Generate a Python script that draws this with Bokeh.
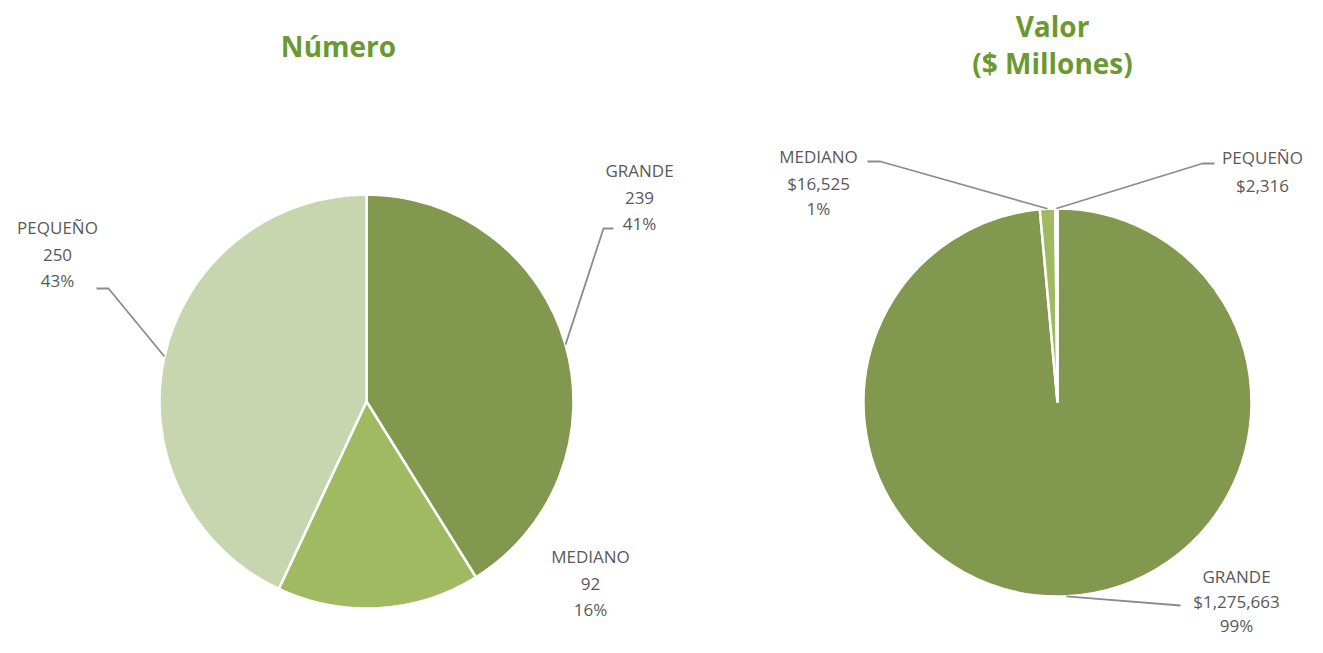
import math
from bokeh.plotting import figure
from bokeh.models import Range1d
from bokeh.core.properties import value
from bokeh.embed import file_html
from bokeh.resources import INLINE

# ---- data ----
categories = ["GRANDE", "MEDIANO", "PEQUEÑO"]
numero = [239, 92, 250]
valor = [1275663, 16525, 2316]
valor_text = ["$1,275,663", "$16,525", "$2,316"]
show_pct_valor = [True, True, False]
colors = ["#82984F", "#A0BA62", "#C8D6AF"]
valor_colors = ["#82984F", "#A0BA62", "#A0BA62"]

W, H = 1307, 637
p = figure(width=W, height=H, output_backend="svg", toolbar_location=None,
           x_range=Range1d(0, W), y_range=Range1d(0, H),
           min_border=0, outline_line_color=None)
p.axis.visible = False
p.grid.visible = False
p.background_fill_color = "white"

def Y(sy):
    return H - sy

TXT = "#595959"
FONT = value("Open Sans")
GREEN = "#6A9A2F"

def pie(cx, cy, r, vals, cols):
    total = float(sum(vals))
    a = 0.0
    mids = []
    for v, c in zip(vals, cols):
        a1 = a + 2 * math.pi * v / total
        p.wedge(x=[cx], y=[Y(cy)], radius=r, start_angle=math.pi / 2 - a,
                end_angle=math.pi / 2 - a1, direction="clock",
                fill_color=c, line_color="white", line_width=2.5)
        mids.append((a + a1) / 2)
        a = a1
    return total, mids

def edge(cx, cy, r, ang):
    return cx + r * math.sin(ang), cy - r * math.cos(ang)

def label(x, ys, lines):
    for yy, t in zip(ys, lines):
        p.text(x=[x], y=[Y(yy)], text=[t], text_align="center", text_baseline="middle",
               text_font=FONT, text_font_size="17px", text_color=TXT)

def leader(pts):
    p.line([q[0] for q in pts], [Y(q[1]) for q in pts], line_color="#8C8C8C", line_width=1.8)

# ---- left pie: Número ----
cxL, cyL, rL = 366, 401, 207
totL, midsL = pie(cxL, cyL, rL, numero, colors)
pctL = [f"{round(100 * v / totL)}%" for v in numero]

# GRANDE
ex, ey = edge(cxL, cyL, rL, midsL[0])
leader([(ex, ey), (603, 228), (613, 228)])
label(639, [170, 197, 223], [categories[0], str(numero[0]), pctL[0]])
# MEDIANO
label(590, [556, 583, 609], [categories[1], str(numero[1]), pctL[1]])
# PEQUEÑO
ex, ey = edge(cxL, cyL, rL, midsL[2])
leader([(ex, ey), (108, 288), (96, 288)])
label(57, [227, 254, 280], [categories[2], str(numero[2]), pctL[2]])

# ---- right pie: Valor ----
cxR, cyR, rR = 1057, 402, 194
totR, midsR = pie(cxR, cyR, rR, valor, valor_colors)
pctR = [f"{round(100 * v / totR)}%" for v in valor]

# GRANDE
ex, ey = edge(cxR, cyR, rR, midsR[0])
leader([(ex, ey), (1180, 605)])
label(1236, [576, 601, 625], [categories[0], valor_text[0], pctR[0]])
# MEDIANO
ex, ey = edge(cxR, cyR, rR, midsR[1])
leader([(ex, ey), (880, 161), (867, 161)])
label(818, [156, 183, 208], [categories[1], valor_text[1], pctR[1]])
# PEQUEÑO
ex, ey = edge(cxR, cyR, rR, midsR[2])
leader([(ex, ey), (1202, 163), (1214, 163)])
lines = [categories[2], valor_text[2]] + ([pctR[2]] if show_pct_valor[2] else [])
label(1262, [157, 185, 211][:len(lines)], lines)

# ---- titles ----
def title(x, y, t):
    p.text(x=[x], y=[Y(y)], text=[t], text_align="center", text_baseline="middle",
           text_font=FONT, text_font_size="28px", text_font_style="bold", text_color=GREEN)

title(338, 45, "Número")
title(1052, 25, "Valor")
title(1052, 62, "($ Millones)")

open("out.html", "w").write(file_html(p, INLINE))
